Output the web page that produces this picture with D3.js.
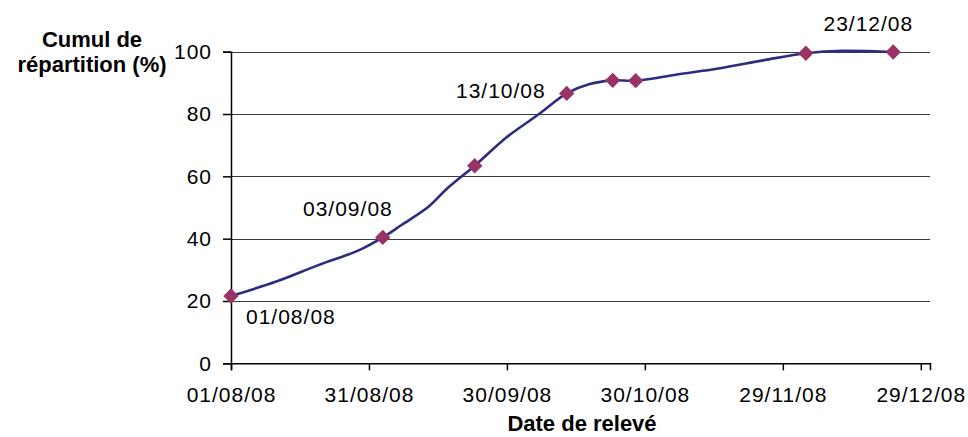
<!DOCTYPE html>
<html>
<head>
<meta charset="utf-8">
<script src="https://cdn.jsdelivr.net/npm/d3@7"></script>
<style>
  html, body { margin: 0; padding: 0; background: #fff; }
  svg { display: block; }
  text { font-family: "Liberation Sans", Arial, sans-serif; }
</style>
</head>
<body>
<svg id="chart" width="968" height="437"></svg>
<script>
// ---- Data ----
const lineDates  = ["01/08/08","11/08/08","20/08/08","29/08/08","03/09/08","07/09/08","13/09/08","17/09/08","23/09/08","30/09/08","07/10/08","13/10/08","18/10/08","23/10/08","28/10/08","06/11/08","15/11/08","25/11/08","04/12/08","12/12/08","23/12/08"];
const lineValues = [21.6, 26.3, 31.5, 36.4, 40.4, 44.3, 50.3, 56.1, 63.4, 72.6, 80.0, 86.6, 89.6, 90.8, 90.7, 92.7, 94.6, 97.3, 99.5, 100.3, 99.9];
const markerDates  = ["01/08/08","03/09/08","23/09/08","13/10/08","23/10/08","28/10/08","04/12/08","23/12/08"];
const markerValues = [21.6, 40.4, 63.4, 86.6, 90.8, 90.7, 99.5, 99.9];
const annotationDates = ["01/08/08","03/09/08","13/10/08","23/12/08"];
const xTickLabels = ["01/08/08","31/08/08","30/09/08","30/10/08","29/11/08","29/12/08"];
const yTickValues = [0, 20, 40, 60, 80, 100];
const xDomain = ["01/08/08","31/12/08"];
const yTitleLines = ["Cumul de", "répartition (%)"];
const xTitle = "Date de relevé";

// ---- Setup ----
const parse = d3.timeParse("%d/%m/%y");
const fmt = d3.timeFormat("%d/%m/%y");
const svg = d3.select("#chart");

const x = d3.scaleTime().domain(xDomain.map(parse)).range([231, 930]);
const y = d3.scaleLinear().domain([0, 100]).range([363.3, 51.7]);

const lineData = lineDates.map((d, i) => ({ date: parse(d), value: lineValues[i] }));
const markerData = markerDates.map((d, i) => ({ date: parse(d), value: markerValues[i] }));

// gridlines
svg.append("g")
  .selectAll("line")
  .data(yTickValues.filter(v => v > 0))
  .join("line")
  .attr("x1", x.range()[0]).attr("x2", x.range()[1])
  .attr("y1", d => Math.round(y(d)) + 0.5).attr("y2", d => Math.round(y(d)) + 0.5)
  .attr("stroke", "#3a3a3a").attr("stroke-width", 1.2);

// y axis
const yAxis = d3.axisLeft(y).tickValues(yTickValues).tickSize(8).tickPadding(11).tickFormat(d3.format("d"));
const gy = svg.append("g").attr("transform", `translate(${x.range()[0]},0)`).call(yAxis);
gy.select(".domain").attr("stroke", "#000").attr("stroke-width", 1.5);
gy.selectAll(".tick line").attr("stroke", "#000").attr("stroke-width", 1.5);
gy.selectAll(".tick text").attr("font-size", 21).attr("letter-spacing", 1).attr("fill", "#000")
  .attr("font-family", "Liberation Sans, Arial, sans-serif");

// x axis
const xAxis = d3.axisBottom(x).tickValues(xTickLabels.map(parse)).tickSize(7).tickPadding(17).tickFormat(fmt);
const gx = svg.append("g").attr("transform", `translate(0,${y(0)})`).call(xAxis);
gx.select(".domain").attr("stroke", "#000").attr("stroke-width", 1.5);
gx.selectAll(".tick line").attr("stroke", "#000").attr("stroke-width", 1.5);
gx.selectAll(".tick text").attr("font-size", 21).attr("letter-spacing", 1).attr("fill", "#000")
  .attr("font-family", "Liberation Sans, Arial, sans-serif");

// line
const line = d3.line().x(d => x(d.date)).y(d => y(d.value)).curve(d3.curveCatmullRom.alpha(0.5));
svg.append("path").datum(lineData)
  .attr("d", line)
  .attr("fill", "none")
  .attr("stroke", "#2d2d7d")
  .attr("stroke-width", 2.6);

// markers
svg.append("g").selectAll("path")
  .data(markerData)
  .join("path")
  .attr("transform", d => `translate(${x(d.date)},${y(d.value)})`)
  .attr("d", d3.symbol(d3.symbolDiamond2, 150))
  .attr("fill", "#993366");

// annotations (offsets relative to marker)
const annOffsets = {
  "01/08/08": { dx: 15, dy: 28, anchor: "start" },
  "03/09/08": { dx: 10, dy: -21, anchor: "end" },
  "13/10/08": { dx: -21, dy: 5, anchor: "end" },
  "23/12/08": { dx: 20, dy: -21, anchor: "end" }
};
svg.append("g").selectAll("text")
  .data(markerData.filter(d => annotationDates.includes(fmt(d.date))))
  .join("text")
  .attr("x", d => x(d.date) + annOffsets[fmt(d.date)].dx)
  .attr("y", d => y(d.value) + annOffsets[fmt(d.date)].dy)
  .attr("text-anchor", d => annOffsets[fmt(d.date)].anchor)
  .attr("font-size", 21).attr("letter-spacing", 1).attr("fill", "#000")
  .text(d => fmt(d.date));

// titles
svg.append("text")
  .attr("x", 92).attr("y", 47)
  .attr("text-anchor", "middle")
  .attr("font-size", 22).attr("font-weight", "bold")
  .selectAll("tspan").data(yTitleLines).join("tspan")
  .attr("x", 92).attr("dy", (d, i) => i === 0 ? 0 : 25)
  .text(d => d);

svg.append("text")
  .attr("x", 582).attr("y", 431)
  .attr("text-anchor", "middle")
  .attr("font-size", 22).attr("font-weight", "bold")
  .text(xTitle);
</script>
</body>
</html>
